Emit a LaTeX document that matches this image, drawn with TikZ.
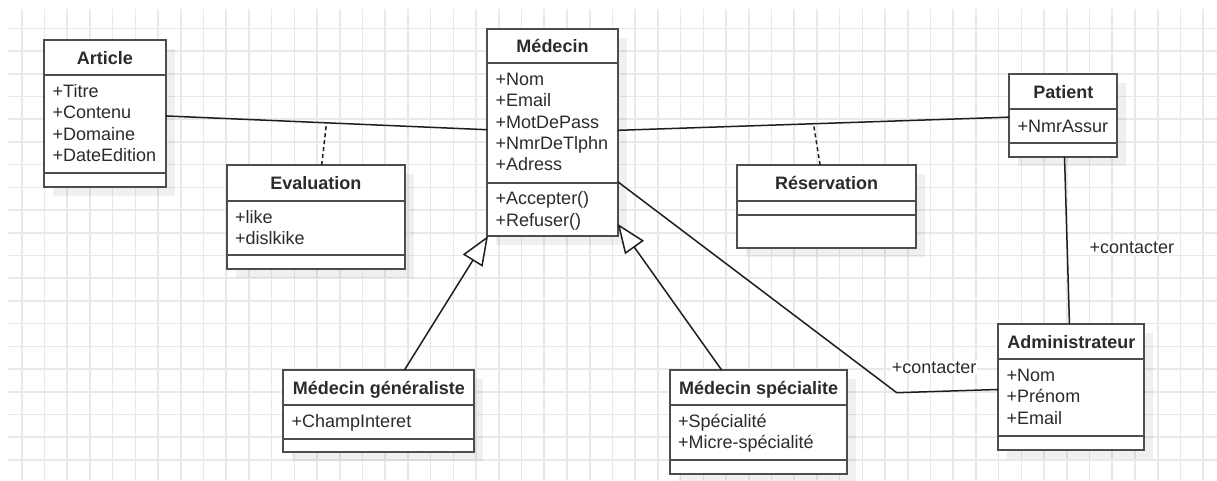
\documentclass[tikz,border=0pt]{standalone}
\usepackage{fontspec}
\setmainfont{Liberation Sans}
\usetikzlibrary{arrows.meta,shadows}

\definecolor{gridgray}{HTML}{E9E9E9}
\definecolor{boxline}{HTML}{4D4D4D}
\definecolor{ink}{HTML}{2B2B2B}
\definecolor{wire}{HTML}{1E1E1E}

\tikzset{
  gridline/.style={draw=gridgray, line width=1.6pt},
  classbox/.style={draw=boxline, line width=2pt, fill=white, inner sep=0pt, outer sep=0pt,
    drop shadow={shadow xshift=9pt, shadow yshift=-9pt, fill=black, opacity=0.06}},
  rule/.style={draw=boxline, line width=2pt},
  classtitle/.style={anchor=base, inner sep=0pt, text=ink,
    font=\fontsize{18}{21.3}\selectfont\bfseries},
  member/.style={anchor=base west, inner sep=0pt, text=ink,
    font=\fontsize{18}{21.3}\selectfont},
  rolelabel/.style={anchor=base west, inner sep=1pt, fill=white, text=ink,
    font=\fontsize{18}{21.3}\selectfont},
  assoc/.style={draw=wire, line width=1.5pt},
  assocclass/.style={draw=wire, line width=1.5pt, dash pattern=on 4pt off 3pt},
  inherit/.style={draw=wire, line width=1.5pt,
    -{Triangle[length=29pt, width=23pt, fill=white]}},
}

% class box: name, left, top, right, bottom, header rule, attribute rule, title
\newcommand\umlbox[8]{%
  \node[classbox, minimum width={(#4)-(#2)}, minimum height={(#5)-(#3)}]
    (#1) at ({((#2)+(#4))/2},{((#3)+(#5))/2}) {};
  \draw[rule] (#2,#6) -- (#4,#6);
  \draw[rule] (#2,#7) -- (#4,#7);
  \node[classtitle] at ({((#2)+(#4))/2},{((#3)+(#6))/2+6.5}) {#8};
}
% member lines: left x, first baseline, list of entries
\newcommand\umlrows[3]{%
  \foreach \rowtxt [count=\rowidx from 0] in {#3}
    \node[member] at (#1,{#2+21.3*\rowidx}) {\rowtxt};
}

\begin{document}
\begin{tikzpicture}[x=1pt,y=-1pt]
\useasboundingbox (0,0) rectangle (1217,480);
\fill[white] (0,0) rectangle (1217,480);

% background grid
\foreach \i in {0,...,52}
  \draw[gridline] ({21.7+22.72*\i},9) -- ({21.7+22.72*\i},480);
\foreach \j in {0,...,19}
  \draw[gridline] (8,{28.3+22.72*\j}) -- (1217,{28.3+22.72*\j});

% classes
\umlbox{article}{44.3}{40}{165.7}{186.7}{75.3}{172.7}{Article}
\umlrows{52.5}{97.5}{+Titre,+Contenu,+Domaine,+DateEdition}

\umlbox{evaluation}{226.7}{165}{405}{269.3}{201}{255}{Evaluation}
\umlrows{234.8}{223.2}{+like,+dislkike}

\umlbox{medecin}{487.3}{29}{617.7}{236}{63.3}{182.7}{Médecin}
\umlrows{495.5}{85.5}{+Nom,+Email,+MotDePass,+NmrDeTlphn,+Adress}
\umlrows{495.5}{204.9}{+Accepter(),+Refuser()}

\umlbox{patient}{1009.3}{74}{1117.3}{156.7}{109.3}{142.7}{Patient}
\umlrows{1017.5}{132.5}{+NmrAssur}

\umlbox{reservation}{737.3}{165}{916}{248.3}{201}{215}{Réservation}

\umlbox{generaliste}{283.3}{370}{474.3}{452.3}{405}{438.7}{Médecin généraliste}
\umlrows{291.5}{427.5}{+ChampInteret}

\umlbox{specialite}{670}{370}{847.3}{474.3}{405}{460}{Médecin spécialite}
\umlrows{678}{427.2}{+Spécialité,+Micre-spécialité}

\umlbox{admin}{998.3}{324.3}{1144.3}{450}{359.3}{436}{Administrateur}
\umlrows{1006.5}{381.5}{+Nom,+Prénom,+Email}

% associations
\draw[assoc] (article) -- coordinate[pos=0.5] (evalmid) (medecin);
\draw[assoc] (medecin) -- coordinate[pos=0.5] (resmid) (patient);
\draw[assocclass] (evaluation) -- (evalmid);
\draw[assocclass] (reservation) -- (resmid);
\draw[assoc] (patient) -- (admin);
\coordinate (bend) at (896.7,392.7);
\draw[assoc] (medecin) -- (bend) -- (admin);

% generalizations
\draw[inherit] (generaliste) -- (medecin);
\draw[inherit] (specialite) -- (medecin);

% role names
\node[rolelabel] (rolepatient) at (1088.3,253.8) {+contacter};
\node[rolelabel] (rolemedecin) at (890.7,373.2) {+contacter};
\end{tikzpicture}
\end{document}
